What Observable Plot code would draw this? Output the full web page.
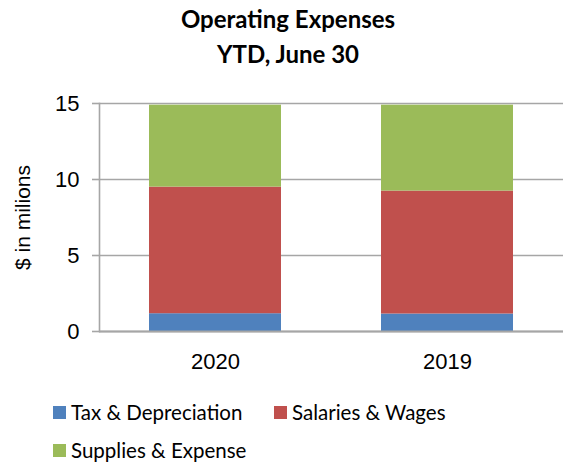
<!DOCTYPE html>
<html>
<head>
<meta charset="utf-8">
<script src="https://cdn.jsdelivr.net/npm/d3@7"></script>
<script src="https://cdn.jsdelivr.net/npm/@observablehq/plot@0.6"></script>
<style>
  html, body { margin: 0; padding: 0; background: #fff; }
  #wrap { position: relative; width: 567px; height: 462px; overflow: hidden; }
  #title { position: absolute; left: 0; top: 0; width: 576px; text-align: center;
    font-family: Lato, "Open Sans", sans-serif; font-weight: bold; font-size: 24px; line-height: 35px; color: #000; padding-top: 1px; }
  #chart { position: absolute; left: 0; top: 80px; }
  #legend { position: absolute; left: 53px; top: 400px; width: 510px;
    font-family: Lato, "Open Sans", sans-serif; font-size: 20.5px; line-height: 24px; color: #000; }
  .item { position: absolute; display: flex; align-items: center; white-space: nowrap; }
  .sw { width: 13px; height: 13px; margin-right: 5px; }
</style>
</head>
<body>
<div id="wrap">
  <div id="title">Operating Expenses<br>YTD, June 30</div>
  <div id="chart"></div>
  <div id="legend"></div>
</div>
<script>
const years = ["2020", "2019"];
const series = ["Tax & Depreciation", "Salaries & Wages", "Supplies & Expense"];
const taxDepreciation = [1.17, 1.15];
const salariesWages = [8.33, 8.09];
const suppliesExpense = [5.39, 5.65];
const yTicks = [0, 5, 10, 15];
const colors = ["#4F81BD", "#C0504D", "#9BBB59"];

const seriesValues = [taxDepreciation, salariesWages, suppliesExpense];
const data = [];
series.forEach((s, si) => years.forEach((y, yi) => data.push({year: y, series: s, value: seriesValues[si][yi]})));

const grid = "#a6a6a6";
const plot = Plot.plot({
  width: 567,
  height: 305,
  marginLeft: 99,
  marginRight: 4,
  marginTop: 23,
  marginBottom: 54,
  style: {fontFamily: "'Liberation Sans', Arial, sans-serif", background: "#fff", color: "#000"},
  x: {domain: years, paddingInner: 0.431, paddingOuter: 0.2155, align: 0.5},
  y: {domain: [0, 15]},
  color: {domain: series, range: colors},
  marks: [
    Plot.gridY(yTicks, {stroke: grid, strokeOpacity: 1, strokeWidth: 1.6}),
    Plot.barY(data, {x: "year", y: "value", fill: "series"}),
    Plot.frame({anchor: "left", stroke: grid, strokeWidth: 1.6}),
    Plot.ruleY([0], {stroke: grid, strokeWidth: 2}),
    Plot.axisY(yTicks, {tickSize: 7, tickPadding: 13, fontSize: 22, stroke: grid, strokeWidth: 1.6,
      label: "$ in milions", labelAnchor: "center", labelArrow: "none", labelOffset: 84, color: "#000"}),
    Plot.axisX({tickSize: 0, tickPadding: 22, fontSize: 22, label: null})
  ]
});
document.getElementById("chart").appendChild(plot);
plot.querySelectorAll("g[aria-label='y-axis label'] text").forEach(t => t.setAttribute("font-size", 21));

const legend = document.getElementById("legend");
const pos = [[0, 0], [221, 0], [0, 38]];
series.forEach((s, i) => {
  const it = document.createElement("div");
  it.className = "item";
  it.style.left = pos[i][0] + "px";
  it.style.top = pos[i][1] + "px";
  it.innerHTML = `<div class="sw" style="background:${colors[i]}"></div><span>${s}</span>`;
  legend.appendChild(it);
});
</script>
</body>
</html>
